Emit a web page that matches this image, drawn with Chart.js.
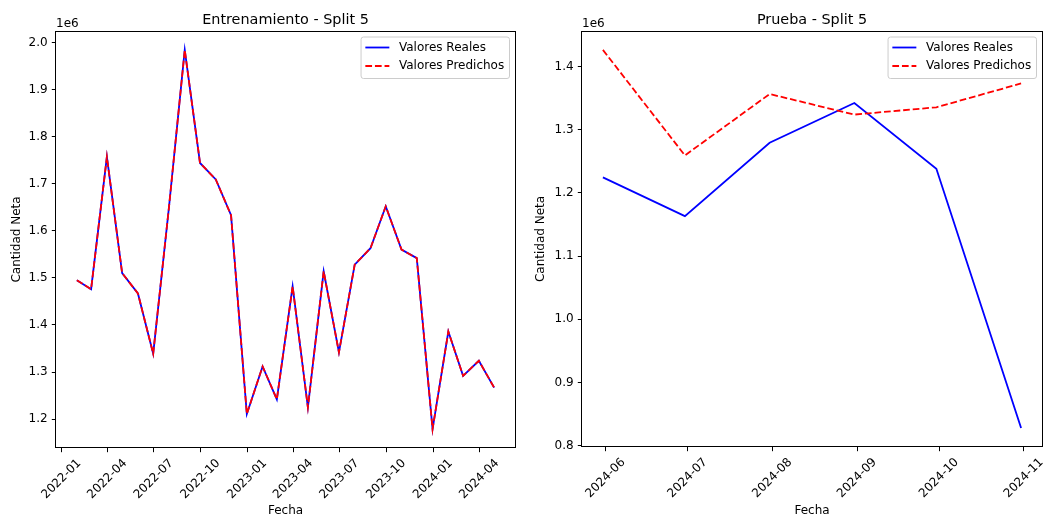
<!DOCTYPE html>
<html>
<head>
<meta charset="utf-8">
<script src="https://cdn.jsdelivr.net/npm/chart.js@4/dist/chart.umd.min.js"></script>
<style>
  html, body { margin: 0; padding: 0; background: #ffffff; }
  #fig { position: relative; width: 1047px; height: 518px; overflow: hidden; }
  .panel { position: absolute; top: 0; height: 518px; }
  #trainPanel { left: 0; width: 523px; }
  #testPanel { left: 523px; width: 524px; }
  canvas { display: block; }
</style>
</head>
<body>
<div id="fig">
  <div class="panel" id="trainPanel"><canvas id="trainChart" width="523" height="518"></canvas></div>
  <div class="panel" id="testPanel"><canvas id="testChart" width="524" height="518"></canvas></div>
</div>
<script>
// ---- Training split (monthly, month-end dates) ----
const trainDates = [
  '2022-01-31', '2022-02-28', '2022-03-31', '2022-04-30', '2022-05-31', '2022-06-30',
  '2022-07-31', '2022-08-31', '2022-09-30', '2022-10-31', '2022-11-30', '2022-12-31',
  '2023-01-31', '2023-02-28', '2023-03-31', '2023-04-30', '2023-05-31', '2023-06-30',
  '2023-07-31', '2023-08-31', '2023-09-30', '2023-10-31', '2023-11-30', '2023-12-31',
  '2024-01-31', '2024-02-29', '2024-03-31', '2024-04-30'
];
const trainActual = [
  1495000, 1476000, 1757000, 1510000, 1467000, 1339000,
  1650000, 1984000, 1744000, 1709000, 1633000, 1211000,
  1312000, 1242000, 1482000, 1225000, 1514000, 1342000,
  1528000, 1563000, 1652000, 1560000, 1542000, 1179000,
  1386000, 1292000, 1324000, 1267000
];
const trainPredicted = [
  1495000, 1476000, 1757000, 1510000, 1467000, 1339000,
  1650000, 1984000, 1744000, 1709000, 1633000, 1211000,
  1312000, 1242000, 1482000, 1225000, 1514000, 1342000,
  1528000, 1563000, 1652000, 1560000, 1542000, 1179000,
  1386000, 1292000, 1324000, 1267000
];
const trainTickMonths = ['2022-01', '2022-04', '2022-07', '2022-10', '2023-01', '2023-04', '2023-07', '2023-10', '2024-01', '2024-04'];
const trainYTicks = [1.2, 1.3, 1.4, 1.5, 1.6, 1.7, 1.8, 1.9, 2.0];

// ---- Test split ----
const testDates = ['2024-05-31', '2024-06-30', '2024-07-31', '2024-08-31', '2024-09-30', '2024-10-31'];
const testActual = [1224700, 1163300, 1279400, 1342300, 1238400, 828000];
const testPredicted = [1426300, 1259400, 1356500, 1324000, 1335500, 1373200];
const testTickMonths = ['2024-06', '2024-07', '2024-08', '2024-09', '2024-10', '2024-11'];
const testYTicks = [0.8, 0.9, 1.0, 1.1, 1.2, 1.3, 1.4];

const seriesNames = ['Valores Reales', 'Valores Predichos'];
const axisScale = 1e6;

const FONT = '"DejaVu Sans", "Liberation Sans", sans-serif';
Chart.defaults.font.family = FONT;
Chart.defaults.color = '#000';

function toMs(s) {
  const p = s.split('-').map(Number);
  return Date.UTC(p[0], p[1] - 1, p[2] || 1);
}

// 5% margins on each side, like the default autoscaling of the plotting tool
function padRange(lo, hi) {
  const m = (hi - lo) * 0.05;
  return [lo - m, hi + m];
}

// Frame, offset text, title and legend drawn around the plot area
const decor = {
  id: 'decor',
  afterDraw(chart, args, opts) {
    const { ctx, chartArea: a } = chart;
    ctx.save();
    // full box around the axes
    ctx.strokeStyle = '#000';
    ctx.lineWidth = 1;
    ctx.strokeRect(Math.round(a.left) - 0.5, Math.round(a.top) + 0.5,
                   Math.round(a.right) - Math.round(a.left) + 1, Math.round(a.bottom) - Math.round(a.top) - 1);

    // scale offset text
    ctx.fillStyle = '#000';
    ctx.font = '12px ' + FONT;
    ctx.textAlign = 'left';
    ctx.textBaseline = 'alphabetic';
    ctx.fillText('1e6', a.left, a.top - 4.5);

    // title
    ctx.font = '14.4px ' + FONT;
    ctx.textAlign = 'center';
    ctx.fillText(opts.title, (a.left + a.right) / 2, a.top - 7.5);

    // legend, upper right inside the axes
    ctx.font = '12px ' + FONT;
    const sets = chart.data.datasets;
    let textW = 0;
    sets.forEach(d => { textW = Math.max(textW, ctx.measureText(d.label).width); });
    const boxW = 4.8 + 24 + 9.6 + textW + 4.8;
    const boxH = 41.5;
    const x0 = a.right - 6 - boxW;
    const y0 = a.top + 5.5;
    ctx.beginPath();
    ctx.roundRect(x0 + 0.5, y0 + 0.5, boxW, boxH, 2.5);
    ctx.fillStyle = 'rgba(255,255,255,0.8)';
    ctx.fill();
    ctx.strokeStyle = '#cccccc';
    ctx.lineWidth = 1;
    ctx.stroke();
    sets.forEach((d, i) => {
      const yy = y0 + 11 + i * 18.5;
      ctx.beginPath();
      ctx.setLineDash(d.borderDash || []);
      ctx.strokeStyle = d.borderColor;
      ctx.lineWidth = d.borderWidth;
      ctx.moveTo(x0 + 4.8, yy);
      ctx.lineTo(x0 + 28.8, yy);
      ctx.stroke();
      ctx.setLineDash([]);
      ctx.fillStyle = '#000';
      ctx.textAlign = 'left';
      ctx.textBaseline = 'middle';
      ctx.fillText(d.label, x0 + 38.4, yy);
    });
    ctx.restore();
  }
};

function makeChart(canvasId, cfg) {
  const xs = cfg.dates.map(toMs);
  const [xMin, xMax] = padRange(Math.min(...xs), Math.max(...xs));
  const allY = cfg.actual.concat(cfg.predicted);
  const [yMin, yMax] = padRange(Math.min(...allY), Math.max(...allY));
  const tickFont = { family: FONT, size: 12 };

  return new Chart(document.getElementById(canvasId), {
    type: 'line',
    data: {
      datasets: [
        {
          label: seriesNames[0],
          data: xs.map((x, i) => ({ x, y: cfg.actual[i] })),
          borderColor: '#0000ff',
          borderWidth: 1.8,
          pointRadius: 0,
          tension: 0,
          fill: false,
          order: 1
        },
        {
          label: seriesNames[1],
          data: xs.map((x, i) => ({ x, y: cfg.predicted[i] })),
          borderColor: '#ff0000',
          borderWidth: 1.8,
          borderDash: [6.7, 2.9],
          pointRadius: 0,
          tension: 0,
          fill: false,
          order: 0
        }
      ]
    },
    options: {
      responsive: false,
      animation: false,
      events: [],
      layout: { padding: { top: 31, right: cfg.padRight, bottom: 0, left: 0 } },
      plugins: {
        legend: { display: false },
        tooltip: { enabled: false },
        title: { display: false },
        decor: { title: cfg.title }
      },
      scales: {
        x: {
          type: 'linear',
          min: xMin,
          max: xMax,
          afterBuildTicks: s => { s.ticks = cfg.tickMonths.map(m => ({ value: toMs(m) })); },
          afterFit: s => { s.height = cfg.xHeight; },
          ticks: {
            autoSkip: false,
            minRotation: 45,
            maxRotation: 45,
            labelOffset: 17.7,
            padding: 4,
            color: '#000',
            font: tickFont,
            callback: (v, i) => cfg.tickMonths[i]
          },
          grid: { drawOnChartArea: false, drawTicks: true, tickLength: 4.2, tickColor: '#000', tickWidth: 1 },
          border: { display: false },
          title: { display: true, text: 'Fecha', color: '#000', font: tickFont, padding: { top: 0, bottom: 0 } }
        },
        y: {
          type: 'linear',
          min: yMin,
          max: yMax,
          afterBuildTicks: s => { s.ticks = cfg.yTicks.map(v => ({ value: v * axisScale })); },
          afterFit: s => { s.width = cfg.yWidth; },
          ticks: {
            padding: 4.2,
            color: '#000',
            font: tickFont,
            callback: v => (v / axisScale).toFixed(1)
          },
          grid: { drawOnChartArea: false, drawTicks: true, tickLength: 4.2, tickColor: '#000', tickWidth: 1 },
          border: { display: false },
          title: { display: true, text: 'Cantidad Neta', color: '#000', font: tickFont, padding: { top: cfg.yTitlePad, bottom: 0 } }
        }
      }
    },
    plugins: [decor]
  });
}

makeChart('trainChart', {
  title: 'Entrenamiento - Split 5',
  dates: trainDates, actual: trainActual, predicted: trainPredicted,
  tickMonths: trainTickMonths, yTicks: trainYTicks,
  padRight: 8, yWidth: 56, xHeight: 70, yTitlePad: 9.5
});

makeChart('testChart', {
  title: 'Prueba - Split 5',
  dates: testDates, actual: testActual, predicted: testPredicted,
  tickMonths: testTickMonths, yTicks: testYTicks,
  padRight: 5, yWidth: 59, xHeight: 71, yTitlePad: 11
});
</script>
</body>
</html>
